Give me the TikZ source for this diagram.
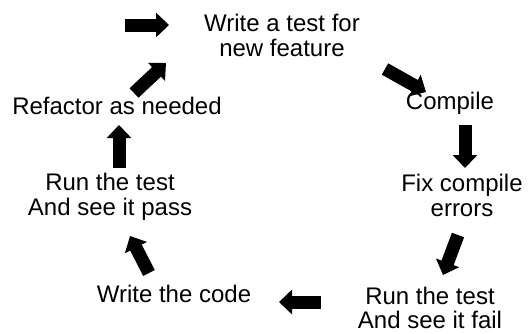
\documentclass[tikz,border=0pt]{standalone}
\usepackage{fontspec}
\setmainfont{Liberation Sans}
\usetikzlibrary{arrows.meta}
\begin{document}
\begin{tikzpicture}[x=1pt,y=-1pt,
  lbl/.style={align=center,inner sep=0pt,font=\fontsize{24}{24.5}\selectfont},
  blk/.style={line width=13pt,-{Triangle[width=24pt,length=13pt]}}]
\useasboundingbox (0,0) rectangle (530,333);
\node[lbl] (write) at (282,35.5) {Write a test for\\new feature};
\node[lbl] (compile) at (450,103) {Compile};
\node[lbl] (fix) at (462,195.5) {Fix compile\\errors};
\node[lbl] (fail) at (430,308) {Run the test\\And see it fail};
\node[lbl] (code) at (174,294) {Write the code};
\node[lbl] (pass) at (110,197) {Run the test\\And see it pass};
\node[lbl] (refactor) at (117,106) {Refactor as needed};
\coordinate (a1s) at (125,25); \coordinate (a1e) at (169,25);
\coordinate (a2s) at (134,93); \coordinate (a2e) at (166,63);
\coordinate (a3s) at (385,69); \coordinate (a3e) at (426,92);
\coordinate (a4s) at (465,125); \coordinate (a4e) at (465,168);
\coordinate (a5s) at (458,235); \coordinate (a5e) at (443,275);
\coordinate (a6s) at (321,302); \coordinate (a6e) at (279,302);
\coordinate (a7s) at (149,273); \coordinate (a7e) at (130,236);
\coordinate (a8s) at (119,168); \coordinate (a8e) at (119,125);
\draw[blk] (a1s) -- (a1e);
\draw[blk] (a2s) -- (a2e);
\draw[blk] (a3s) -- (a3e);
\draw[blk] (a4s) -- (a4e);
\draw[blk] (a5s) -- (a5e);
\draw[blk] (a6s) -- (a6e);
\draw[blk] (a7s) -- (a7e);
\draw[blk] (a8s) -- (a8e);
\end{tikzpicture}
\end{document}
